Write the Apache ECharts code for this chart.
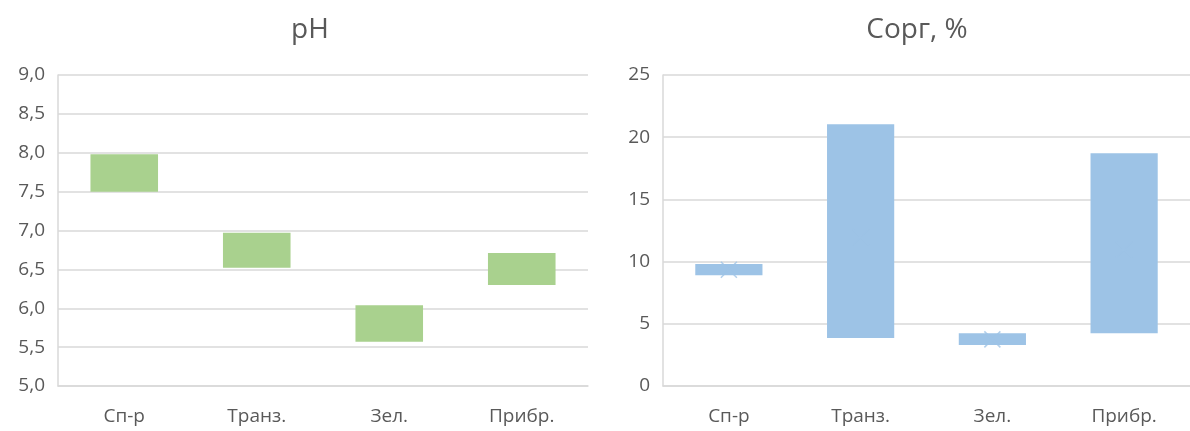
<!DOCTYPE html>
<html>
<head>
<meta charset="utf-8">
<script src="https://cdn.jsdelivr.net/npm/echarts@6/dist/echarts.min.js"></script>
<style>
  html, body { margin: 0; padding: 0; background: #fff; }
  #chart { width: 1190px; height: 431px; }
</style>
</head>
<body>
<div id="chart"></div>
<script>
// Categories (sampling zones).
var categories = ['Сп-р', 'Транз.', 'Зел.', 'Прибр.'];

// pH range: bottom and top of each box.
var phMin = [7.50, 6.52, 5.57, 6.30];
var phMax = [7.98, 6.97, 6.04, 6.71];

// Organic carbon, %: bottom and top of each box, and mean marker.
var corgMin = [8.9, 3.85, 3.3, 4.25];
var corgMax = [9.8, 21.05, 4.25, 18.7];
var corgMean = [9.35, 12.0, 3.75, 11.0];

var phTicks = [5, 9, 0.5];
var corgTicks = [0, 25, 5];

var textColor = '#595959';
var gridColor = '#d9d9d9';
var green = '#a9d18e';
var blue = '#9dc3e6';

function diff(lo, hi) {
  return hi.map(function (v, i) { return +(v - lo[i]).toFixed(3); });
}

var chart = echarts.init(document.getElementById('chart'), null, {renderer: 'canvas'});

var xAxisBase = {
  type: 'category',
  data: categories,
  axisTick: {show: false},
  axisLine: {lineStyle: {color: gridColor, width: 1.5}},
  axisLabel: {color: textColor, fontSize: 19, fontFamily: 'Open Sans', margin: 21}
};

var yAxisBase = {
  type: 'value',
  axisLine: {show: true, lineStyle: {color: gridColor, width: 1.5}},
  axisTick: {show: false},
  splitLine: {lineStyle: {color: gridColor, width: 1.5}},
  axisLabel: {color: textColor, fontSize: 19, fontFamily: 'Open Sans', margin: 13}
};

const option = {
  animation: false,
  title: [
    {
      text: 'pH', left: 305, top: 11, textAlign: 'center',
      textStyle: {color: textColor, fontSize: 28, fontWeight: 'normal', fontFamily: 'Open Sans'}
    },
    {
      text: 'Сорг, %', left: 912, top: 11, textAlign: 'center',
      textStyle: {color: textColor, fontSize: 28, fontWeight: 'normal', fontFamily: 'Open Sans'}
    }
  ],
  grid: [
    {left: 58, width: 530, top: 75, bottom: 45},
    {left: 663, width: 535, top: 75, bottom: 45}
  ],
  xAxis: [
    Object.assign({gridIndex: 0}, xAxisBase),
    Object.assign({gridIndex: 1}, xAxisBase)
  ],
  yAxis: [
    Object.assign({}, yAxisBase, {
      gridIndex: 0, min: phTicks[0], max: phTicks[1], interval: phTicks[2],
      axisLabel: Object.assign({}, yAxisBase.axisLabel, {
        formatter: function (v) { return v.toFixed(1).replace('.', ','); }
      })
    }),
    Object.assign({}, yAxisBase, {
      gridIndex: 1, min: corgTicks[0], max: corgTicks[1], interval: corgTicks[2]
    })
  ],
  series: [
    {
      type: 'bar', xAxisIndex: 0, yAxisIndex: 0, stack: 'ph',
      data: phMin, itemStyle: {color: 'transparent'}, barCategoryGap: '49%', silent: true
    },
    {
      type: 'bar', xAxisIndex: 0, yAxisIndex: 0, stack: 'ph',
      data: diff(phMin, phMax), itemStyle: {color: green}
    },
    {
      type: 'bar', xAxisIndex: 1, yAxisIndex: 1, stack: 'corg',
      data: corgMin, itemStyle: {color: 'transparent'}, barCategoryGap: '49%', silent: true
    },
    {
      type: 'bar', xAxisIndex: 1, yAxisIndex: 1, stack: 'corg',
      data: diff(corgMin, corgMax), itemStyle: {color: blue}
    },
    {
      // Mean marker (x), same colour as the boxes.
      type: 'scatter', xAxisIndex: 1, yAxisIndex: 1,
      data: corgMean,
      symbol: 'path://M0,0L10,10M10,0L0,10',
      symbolSize: [16, 16],
      itemStyle: {color: 'none', borderColor: blue, borderWidth: 1.5}
    }
  ]
};

chart.setOption(option);
</script>
</body>
</html>
